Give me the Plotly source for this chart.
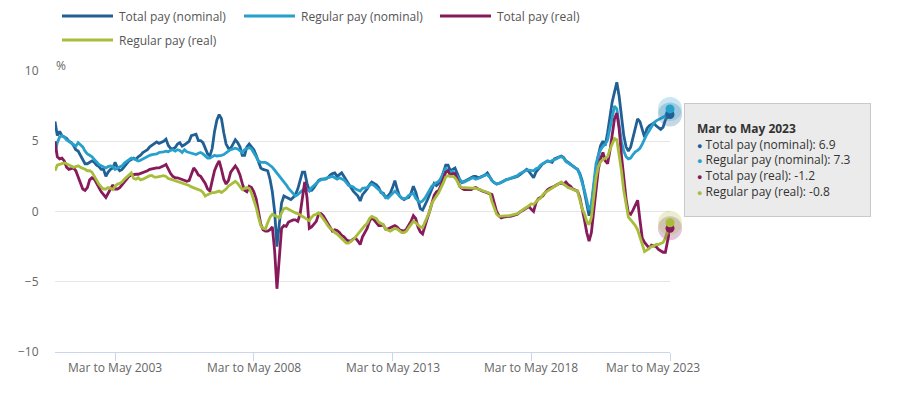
import plotly.graph_objects as go

# ---------------- data ----------------
month_names = ["Jan", "Feb", "Mar", "Apr", "May", "Jun",
               "Jul", "Aug", "Sep", "Oct", "Nov", "Dec"]

series_names = ["Total pay (nominal)", "Regular pay (nominal)",
                "Total pay (real)", "Regular pay (real)"]
series_colors = ["#206095", "#27a0cc", "#871a5b", "#a8bd3a"]

tick_labels = ["Mar to May 2003", "Mar to May 2008", "Mar to May 2013",
               "Mar to May 2018", "Mar to May 2023"]

# three-month periods, Jan to Mar 2001 ... Mar to May 2023 (monthly)
categories = []
for k in range(2, 2 + 267):
    year = 2001 + k // 12
    end_m = k % 12
    start_m = (end_m - 2) % 12
    categories.append(f"{month_names[start_m]} to {month_names[end_m]} {year}")

total_nominal = [
    6.4, 5.4, 5.7, 5.4, 5.3, 5.2, 5.0, 4.9, 4.7, 4.4,
    4.3, 4.0, 3.6, 3.4, 3.4, 3.5, 3.6, 3.5, 3.3, 3.2, 3.0, 3.0,
    2.5, 2.8, 3.0, 3.1, 3.5, 3.1, 2.9, 3.0, 3.2, 3.4, 3.6, 3.7,
    3.8, 3.7, 3.9, 4.0, 4.2, 4.3, 4.4, 4.6, 4.7, 4.8, 4.95, 4.85,
    4.9, 5.0, 5.15, 4.7, 4.5, 4.45, 4.55, 4.8, 4.9, 4.65, 4.75, 4.9,
    5.0, 5.4, 5.45, 5.5, 5.05, 5.05, 4.9, 4.5, 4.1, 3.95, 4.5, 5.7,
    6.5, 6.9, 6.6, 5.6, 4.8, 4.5, 4.5, 4.8, 5.1, 4.9, 4.6, 4.0,
    4.0, 4.6, 4.8, 4.6, 4.4, 4.0, 3.5, 3.1, 3.0, 2.95, 2.9, 2.3,
    1.4, 0.0, -2.5, -0.9, 0.6, 1.1, 1.0, 0.95, 0.85, 1.0, 1.2, 1.6,
    2.2, 2.8, 2.8, 2.0, 1.5, 1.5, 1.7, 2.0, 2.2, 2.3, 2.3, 2.3,
    2.4, 2.6, 2.7, 2.75, 2.5, 2.6, 2.75, 2.5, 2.2, 1.9, 1.7, 1.45,
    1.3, 1.1, 0.75, 1.2, 1.4, 1.6, 1.9, 2.1, 2.0, 1.9, 1.7, 1.35,
    1.3, 1.0, 1.1, 1.3, 1.7, 2.2, 1.6, 1.1, 0.95, 0.85, 0.95, 1.0,
    1.3, 1.8, 1.4, 0.7, 0.2, 0.1, 0.4, 0.8, 1.2, 1.6, 2.0, 1.85,
    2.0, 2.3, 2.9, 3.3, 3.3, 2.9, 3.0, 3.1, 2.7, 2.3, 2.05, 2.15,
    2.2, 2.3, 2.4, 2.5, 2.5, 2.4, 2.45, 2.5, 2.6, 2.75, 2.5, 2.2,
    2.05, 1.95, 2.0, 2.05, 2.15, 2.25, 2.3, 2.3, 2.35, 2.45, 2.5, 2.6,
    2.75, 2.9, 3.0, 2.85, 2.65, 2.4, 2.8, 3.0, 3.2, 3.4, 3.5, 3.6,
    3.55, 3.5, 3.75, 3.8, 3.9, 3.95, 3.85, 3.6, 3.5, 3.35, 3.2, 3.1,
    3.0, 2.7, 2.2, 1.4, 0.7, -0.3, 0.4, 1.9, 3.0, 4.0, 4.7, 5.0,
    4.7, 5.6, 6.7, 7.8, 8.5, 9.2, 8.2, 6.8, 5.4, 4.6, 4.3, 4.6,
    5.2, 5.9, 6.6, 6.4, 5.9, 5.3, 5.9, 6.1, 6.2, 6.3, 6.1, 5.95,
    5.85, 6.0, 6.5, 6.8, 6.9,
]

regular_nominal = [
    4.2, 4.9, 5.3, 5.4, 5.3, 5.1, 5.0, 4.9, 4.75, 4.65,
    4.9, 4.75, 4.6, 4.3, 4.1, 4.0, 3.9, 3.7, 3.5, 3.35, 3.25, 3.15,
    3.1, 3.2, 3.25, 3.2, 3.0, 3.1, 3.15, 3.25, 3.45, 3.55, 3.65, 3.8,
    3.75, 3.65, 3.6, 3.65, 3.75, 3.85, 3.9, 4.0, 4.05, 4.05, 4.1, 4.2,
    4.2, 4.25, 4.3, 4.25, 4.35, 4.4, 4.3, 4.4, 4.35, 4.2, 4.4, 4.25,
    4.2, 4.15, 4.1, 4.05, 4.15, 4.2, 4.1, 3.95, 3.8, 3.8, 3.9, 4.0,
    3.95, 3.95, 4.0, 4.05, 4.2, 4.3, 4.4, 4.45, 4.5, 4.45, 4.35, 4.2,
    4.4, 4.5, 4.55, 4.45, 4.2, 3.9, 3.6, 3.5, 3.5, 3.5, 3.4, 3.3,
    3.15, 2.95, 2.75, 2.5, 2.3, 2.1, 1.9, 1.65, 1.45, 1.25, 1.1, 1.2,
    1.35, 1.55, 1.65, 1.6, 1.45, 1.7, 1.85, 2.05, 2.15, 2.25, 2.3, 2.3,
    2.35, 2.45, 2.5, 2.4, 2.3, 2.4, 2.35, 2.25, 2.05, 1.85, 1.8, 1.75,
    1.6, 1.5, 1.45, 1.65, 1.7, 1.7, 1.85, 1.95, 1.85, 1.7, 1.6, 1.4,
    1.2, 1.0, 0.95, 1.1, 1.3, 1.45, 1.3, 1.1, 0.95, 0.9, 0.95, 1.15,
    1.25, 1.3, 0.95, 0.75, 0.65, 0.75, 0.95, 1.25, 1.55, 1.8, 1.95, 2.05,
    2.15, 2.4, 2.8, 3.1, 2.85, 2.8, 2.85, 2.7, 2.5, 2.25, 2.1, 2.1,
    2.2, 2.3, 2.35, 2.4, 2.3, 2.35, 2.4, 2.5, 2.6, 2.6, 2.45, 2.2,
    2.05, 1.95, 2.0, 2.1, 2.2, 2.25, 2.3, 2.35, 2.4, 2.5, 2.55, 2.7,
    2.8, 2.9, 2.95, 2.95, 2.9, 2.9, 3.05, 3.1, 3.3, 3.4, 3.5, 3.6,
    3.55, 3.6, 3.7, 3.75, 3.85, 3.9, 3.8, 3.55, 3.45, 3.35, 3.25, 3.1,
    3.0, 2.6, 2.1, 1.5, 0.8, 0.1, 0.5, 2.2, 3.4, 4.0, 4.4, 4.65,
    4.8, 5.1, 5.9, 6.7, 7.5, 7.3, 6.1, 5.0, 4.3, 3.9, 3.75, 3.8,
    4.05, 4.25, 4.35, 4.5, 4.8, 5.2, 5.5, 5.75, 6.05, 6.3, 6.45, 6.55,
    6.65, 6.7, 6.8, 7.2, 7.3,
]

total_real = [
    5.0, 3.9, 3.75, 3.8, 3.6, 3.15, 3.0, 3.05, 3.1, 2.9,
    2.5, 2.0, 1.6, 1.5, 1.7, 2.25, 2.4, 2.3, 2.0, 1.6, 1.4, 1.2,
    1.0, 1.3, 1.6, 1.9, 1.6, 1.6, 1.7, 1.9, 2.1, 2.3, 2.5, 2.6,
    2.65, 2.65, 2.65, 2.7, 2.75, 2.85, 2.9, 3.0, 3.05, 3.1, 3.1, 3.1,
    3.15, 3.25, 3.35, 3.0, 2.7, 2.5, 2.4, 2.4, 2.35, 2.3, 2.2, 2.15,
    2.2, 2.6, 3.1, 2.9, 2.6, 2.5, 2.25, 2.0, 1.6, 1.45, 2.2, 2.9,
    3.3, 3.6, 3.0, 2.3, 1.95, 2.2, 2.8, 3.05, 3.25, 3.0, 2.6, 2.0,
    1.5, 1.4, 1.8, 1.7, 1.4, 0.9, 0.1, -0.9, -1.3, -1.4, -1.4, -1.3,
    -1.1, -2.8, -5.5, -3.5, -1.2, -1.0, -1.05, -0.75, -0.65, -0.6, -0.6, -0.7,
    -0.2, 0.9, 2.1, 1.0, -1.2, -1.1, -0.9, -0.7, -0.2, -0.15, -0.3, -0.6,
    -0.9, -1.1, -1.4, -1.3, -1.35, -1.5, -1.7, -1.8, -2.0, -2.1, -2.1, -1.95,
    -1.9, -2.1, -2.35, -1.8, -1.5, -1.2, -0.7, -0.45, -0.6, -0.8, -1.0, -1.0,
    -0.95, -1.25, -1.25, -1.15, -1.05, -1.0, -1.1, -1.3, -1.35, -1.4, -1.25, -1.0,
    -0.7, -0.3, -0.5, -1.1, -1.45, -1.6, -1.0, -0.5, 0.0, 0.5, 1.15, 1.4,
    1.5, 1.9, 2.4, 2.8, 2.9, 2.55, 2.7, 2.7, 2.3, 1.8, 1.65, 1.55,
    1.55, 1.55, 1.55, 1.65, 1.7, 1.6, 1.5, 1.45, 1.4, 1.35, 1.3, 1.2,
    0.6, 0.0, -0.3, -0.45, -0.4, -0.35, -0.35, -0.35, -0.3, -0.3, -0.2, -0.05,
    0.05, 0.2, 0.3, 0.35, 0.15, 0.0, 0.6, 0.9, 1.0, 1.1, 1.35, 1.55,
    1.65, 1.7, 1.8, 1.9, 2.0, 2.05, 1.95, 2.1, 1.9, 1.8, 1.6, 1.5,
    1.45, 1.0, 0.3, -0.6, -1.5, -2.1, -1.5, 0.1, 1.6, 3.0, 3.8, 4.2,
    3.6, 3.4, 4.3, 5.4, 6.6, 7.0, 5.9, 4.0, 2.3, 0.9, -0.1, -0.2,
    0.1, 0.4, 0.8, -0.6, -1.9, -2.2, -2.4, -2.6, -2.4, -2.45, -2.5, -2.7,
    -2.8, -2.9, -2.9, -2.0, -1.2,
]

regular_real = [
    2.9, 3.3, 3.35, 3.4, 3.45, 3.4, 3.3, 3.25, 3.15, 3.2,
    3.25, 3.15, 3.1, 3.0, 2.9, 2.9, 2.8, 2.5, 2.2, 1.95, 1.75, 1.6,
    1.6, 1.7, 1.65, 1.55, 1.8, 1.95, 2.0, 2.1, 2.3, 2.45, 2.6, 2.75,
    2.35, 2.3, 2.4, 2.25, 2.3, 2.4, 2.5, 2.55, 2.55, 2.45, 2.45, 2.5,
    2.55, 2.55, 2.5, 2.35, 2.3, 2.25, 2.2, 2.1, 2.05, 2.0, 1.95, 1.9,
    1.85, 1.75, 1.7, 1.65, 1.6, 1.5, 1.35, 1.1, 1.2, 1.3, 1.35, 1.35,
    1.4, 1.45, 1.35, 1.45, 1.6, 1.8, 1.9, 2.05, 2.15, 2.0, 1.8, 1.55,
    1.65, 1.7, 1.65, 1.3, 0.8, 0.3, -0.4, -1.0, -1.2, -1.25, -0.8, -0.4,
    -0.2, -0.3, -0.35, -0.45, -0.1, 0.2, 0.25, 0.15, 0.1, 0.0, -0.1, -0.15,
    -0.25, -0.3, -0.4, -0.5, -0.65, -0.4, -0.25, -0.2, -0.1, -0.3, -0.5, -0.75,
    -1.0, -1.2, -1.3, -1.5, -1.6, -1.75, -1.95, -2.1, -2.25, -2.25, -2.15, -2.0,
    -1.8, -1.6, -1.4, -1.15, -1.0, -0.85, -0.5, -0.35, -0.4, -0.5, -0.75, -0.85,
    -0.95, -1.25, -1.35, -1.4, -1.3, -1.2, -1.25, -1.4, -1.5, -1.5, -1.4, -1.15,
    -0.9, -0.7, -0.8, -0.95, -1.1, -1.15, -0.8, -0.4, 0.0, 0.6, 0.9, 1.1,
    1.35, 1.65, 2.05, 2.45, 2.55, 2.5, 2.5, 2.4, 2.15, 1.8, 1.7, 1.7,
    1.7, 1.65, 1.65, 1.7, 1.65, 1.6, 1.55, 1.5, 1.45, 1.4, 1.3, 0.7,
    0.2, -0.2, -0.35, -0.35, -0.33, -0.33, -0.3, -0.28, -0.25, -0.2, -0.15, -0.05,
    0.1, 0.2, 0.3, 0.45, 0.55, 0.5, 0.7, 0.85, 0.95, 1.2, 1.35, 1.45,
    1.6, 1.7, 1.8, 1.9, 2.0, 2.1, 1.95, 1.8, 1.7, 1.65, 1.55, 1.5,
    1.45, 0.9, 0.2, -0.15, -0.7, -0.95, -0.4, 1.0, 2.4, 3.2, 3.55, 3.7,
    3.8, 3.9, 4.4, 4.8, 5.2, 5.1, 4.1, 2.9, 1.5, 0.4, -0.4, -0.6,
    -0.8, -1.0, -1.3, -1.8, -2.3, -2.85, -2.75, -2.6, -2.5, -2.45, -2.35, -2.35,
    -2.3, -2.2, -1.9, -1.3, -0.8,
]

series_values = [total_nominal, regular_nominal, total_real, regular_real]

# ---------------- layout helpers (target-pixel -> paper) ----------------
# the page body adds an 8px offset, so the figure is 8px smaller and all
# target pixel positions are shifted back by that amount
OFF = 8
W, H = 900 - OFF, 398 - OFF
ML, MT = 55 - OFF, 71 - OFF
PW, PH = 615, 281
MR = W - ML - PW
MB = H - MT - PH


def pxx(px):
    return (px - OFF - ML) / PW


def pxy(py):
    return (MT + PH - (py - OFF)) / PH


FONT = "Open Sans, Liberation Sans, Arial, sans-serif"

fig = go.Figure()

for name, col, vals in zip(series_names, series_colors, series_values):
    fig.add_trace(go.Scatter(
        x=categories, y=vals, mode="lines", name=name,
        line=dict(color=col, width=2.8), showlegend=False,
        hoverinfo="skip"))

# highlighted last points (halo + dot)
for col, vals in zip(series_colors, series_values):
    fig.add_trace(go.Scatter(
        x=[categories[-1]], y=[vals[-1]], mode="markers",
        marker=dict(color=col, size=24, opacity=0.25),
        showlegend=False, hoverinfo="skip", cliponaxis=False))
for col, vals in zip(series_colors, series_values):
    fig.add_trace(go.Scatter(
        x=[categories[-1]], y=[vals[-1]], mode="markers",
        marker=dict(color=col, size=9),
        showlegend=False, hoverinfo="skip", cliponaxis=False))

shapes = []
annotations = []

# custom legend
legend_pos = [(62, 16), (244, 16), (440, 16), (62, 40)]
for (lx, ly), name, col in zip(legend_pos, series_names, series_colors):
    shapes.append(dict(type="line", xref="paper", yref="paper",
                       x0=pxx(lx), x1=pxx(lx + 51), y0=pxy(ly), y1=pxy(ly),
                       line=dict(color=col, width=3)))
    annotations.append(dict(xref="paper", yref="paper", x=pxx(lx + 55), y=pxy(ly),
                            xanchor="left", yanchor="middle", showarrow=False,
                            text=name, font=dict(family=FONT, size=12, color="#555555")))

# % unit label
annotations.append(dict(xref="paper", yref="paper", x=pxx(54), y=pxy(65),
                        xanchor="left", yanchor="middle", showarrow=False,
                        text="%", font=dict(family=FONT, size=12, color="#666666")))

# x-axis tick labels (last one is pulled left so it stays inside the chart)
for j, lab in enumerate(tick_labels):
    annotations.append(dict(xref="x", yref="paper", x=lab, y=pxy(367),
                            xanchor="center", yanchor="middle", showarrow=False,
                            xshift=-17 if j == len(tick_labels) - 1 else 0,
                            text=lab, font=dict(family=FONT, size=12, color="#666666")))

# tooltip box
tip_lines = [f"<b>{categories[-1]}</b>"]
for name, col, vals in zip(series_names, series_colors, series_values):
    tip_lines.append(f"<span style='color:{col};font-size:9px'>\u25CF</span> {name}: {vals[-1]}")
annotations.append(dict(xref="paper", yref="paper", x=pxx(684), y=pxy(103),
                        xanchor="left", yanchor="top", showarrow=False,
                        text="<br>".join(tip_lines), align="left", valign="middle",
                        width=161, height=88, borderpad=12, borderwidth=1,
                        bordercolor="#c9c9c9", bgcolor="#ebebeb",
                        font=dict(family=FONT, size=12, color="#333333")))

fig.update_layout(
    width=W, height=H,
    margin=dict(l=ML, r=MR, t=MT, b=MB, autoexpand=False),
    paper_bgcolor="white", plot_bgcolor="white",
    font=dict(family=FONT, size=12, color="#666666"),
    showlegend=False,
    hovermode=False,
    shapes=shapes,
    annotations=annotations,
    xaxis=dict(
        type="category", automargin=False,
        range=[0, len(categories) - 1],
        tickmode="array", tickvals=tick_labels, ticktext=tick_labels,
        showticklabels=False,
        showgrid=False, zeroline=False,
        showline=True, linecolor="#ccd6eb", linewidth=1,
        ticks="outside", ticklen=8, tickcolor="#ccd6eb",
    ),
    yaxis=dict(
        range=[-10, 10], automargin=False,
        tickmode="array", tickvals=[-10, -5, 0, 5, 10],
        showgrid=True, gridcolor="#e6e6e6", gridwidth=1,
        zeroline=False, showline=False,
        ticks="outside", ticklen=13, tickcolor="rgba(0,0,0,0)",
        tickfont=dict(family=FONT, size=12, color="#666666"),
    ),
)

fig.write_html("out.html", config={"displayModeBar": False})
